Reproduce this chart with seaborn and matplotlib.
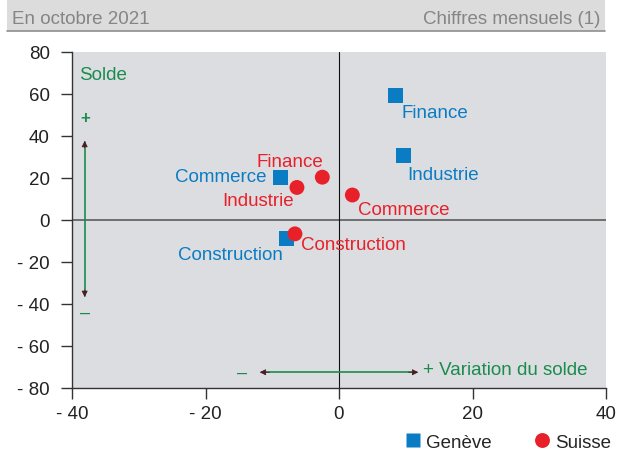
import matplotlib
matplotlib.use("Agg")
import matplotlib.pyplot as plt
import seaborn as sns
import pandas as pd
from matplotlib.patches import Rectangle
from matplotlib.lines import Line2D

# ---- data ----
sectors = ["Finance", "Industrie", "Commerce", "Construction"]
geneve_x = [8.4, 9.6, -8.7, -7.8]
geneve_y = [59.4, 30.9, 20.3, -9.0]
suisse_x = [-2.5, -6.3, 2.0, -6.6]
suisse_y = [20.4, 15.5, 11.9, -6.6]
regions = ["Genève", "Suisse"]
xticks = [-40, -20, 0, 20, 40]
xtick_labels = ["- 40", "- 20", "0", "20", "40"]
yticks = [-80, -60, -40, -20, 0, 20, 40, 60, 80]
ytick_labels = ["- 80", "- 60", "- 40", "- 20", "0", "20", "40", "60", "80"]
title_left = "En octobre 2021"
title_right = "Chiffres mensuels (1)"

BLUE = "#0a7cc4"
RED = "#e8202a"
GREEN = "#1a8c4e"
HEAD = "#4b1c24"

df = pd.DataFrame({
    "x": geneve_x + suisse_x,
    "y": geneve_y + suisse_y,
    "Région": [regions[0]] * 4 + [regions[1]] * 4,
    "Secteur": sectors * 2,
})

sns.set_theme(style="white")
plt.rcParams["font.family"] = ["Liberation Sans", "DejaVu Sans"]

fig = plt.figure(figsize=(6.17, 4.52), dpi=100)
W, H = 617, 452

# header band
fig.patches.append(Rectangle((7 / W, 1 - 32 / H), (605 - 7) / W, 32 / H, transform=fig.transFigure,
                             facecolor="#dcdcdd", edgecolor="none", zorder=0))
fig.lines.append(Line2D([7 / W, 605 / W], [1 - 32 / H, 1 - 32 / H], transform=fig.transFigure,
                        color="#8f8f8f", lw=1.2))
fig.text(12 / W, 1 - 19 / H, title_left, ha="left", va="center", fontsize=13.5, color="#858585")
fig.text(600 / W, 1 - 19 / H, title_right, ha="right", va="center", fontsize=13.5, color="#858585")

ax = fig.add_axes([72 / W, 1 - 389 / H, (606 - 72) / W, (389 - 53) / H])
ax.set_facecolor("#dcdde0")

sns.scatterplot(data=df, x="x", y="y", hue="Région", style="Région",
                palette={regions[0]: BLUE, regions[1]: RED},
                markers={regions[0]: "s", regions[1]: "o"},
                s=115, edgecolor="none", ax=ax, zorder=5)

ax.set_xlim(-40, 40)
ax.set_ylim(-80, 80)
ax.set_xticks(xticks)
ax.set_xticklabels(xtick_labels)
ax.set_yticks(yticks)
ax.set_yticklabels(ytick_labels)
ax.set_xlabel("")
ax.set_ylabel("")
ax.tick_params(axis="both", direction="out", length=8, width=1, color="#333333",
               labelsize=13.5, labelcolor="#222222", left=True, bottom=True)
ax.tick_params(axis="x", pad=4)
ax.tick_params(axis="y", pad=8)
for side in ["top", "right"]:
    ax.spines[side].set_visible(False)
for side in ["left", "bottom"]:
    ax.spines[side].set_color("#333333")
    ax.spines[side].set_linewidth(1)

ax.axhline(0, color="#666666", lw=1.3, zorder=2)
ax.axvline(0, color="#111111", lw=0.8, zorder=2)

# labels
fs = 13.5
g_labels = [
    (9.3, 51.3, "left"),
    (10.2, 21.9, "left"),
    (-10.9, 20.9, "right"),
    (-8.4, -16.2, "right"),
]
s_labels = [
    (-2.4, 27.7, "right"),
    (-6.8, 9.2, "right"),
    (2.8, 4.9, "left"),
    (-5.7, -11.9, "left"),
]
for name, (lx, ly, ha) in zip(sectors, g_labels):
    ax.text(lx, ly, name, color=BLUE, fontsize=fs, ha=ha, va="center", zorder=6)
for name, (lx, ly, ha) in zip(sectors, s_labels):
    ax.text(lx, ly, name, color=RED, fontsize=fs, ha=ha, va="center", zorder=6)

# guide annotations
ax.text(-39, 69.5, "Solde", color=GREEN, fontsize=13.5, ha="left", va="center")
ax.text(-38.1, 49, "+", color=GREEN, fontsize=12, ha="center", va="center", fontweight="bold")
ax.text(-38.1, -44, "–", color=GREEN, fontsize=13, ha="center", va="center")
ax.plot([-38.1, -38.1], [37, -36], color=GREEN, lw=1.2, zorder=3)
ax.annotate("", xy=(-38.1, 39), xytext=(-38.1, 33),
            arrowprops=dict(arrowstyle="-|>", color=HEAD, lw=0.6, mutation_scale=9))
ax.annotate("", xy=(-38.1, -38), xytext=(-38.1, -32),
            arrowprops=dict(arrowstyle="-|>", color=HEAD, lw=0.6, mutation_scale=9))

ax.text(-14.5, -72.5, "–", color=GREEN, fontsize=13, ha="center", va="center")
ax.plot([-11.5, 11.5], [-72.5, -72.5], color=GREEN, lw=1.2, zorder=3)
ax.annotate("", xy=(-12.3, -72.5), xytext=(-10, -72.5),
            arrowprops=dict(arrowstyle="-|>", color=HEAD, lw=0.6, mutation_scale=9))
ax.annotate("", xy=(12.3, -72.5), xytext=(10, -72.5),
            arrowprops=dict(arrowstyle="-|>", color=HEAD, lw=0.6, mutation_scale=9))
ax.text(12.6, -71, "+ Variation du solde", color=GREEN, fontsize=13.5, ha="left", va="center")

# legend
sns.move_legend(ax, "center left", bbox_to_anchor=(392 / W, 1 - 443 / H),
                bbox_transform=fig.transFigure, ncol=2, frameon=False, title=None,
                fontsize=13.5, handletextpad=0.1, columnspacing=2.1, markerscale=1.0,
                borderpad=0, handlelength=1.2)

fig.savefig("out.png", dpi=100)
